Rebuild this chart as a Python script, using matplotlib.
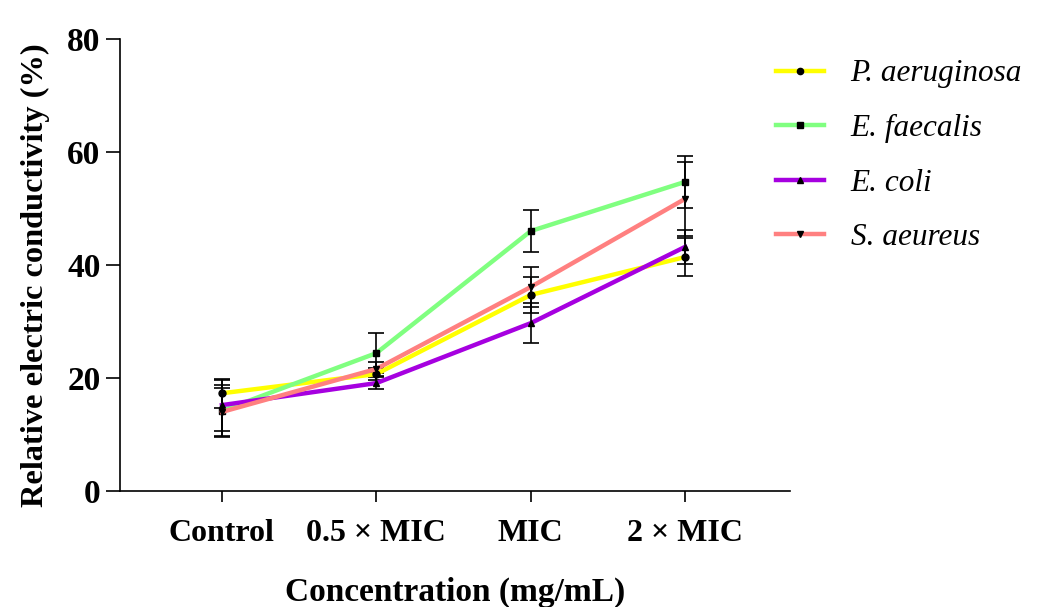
import matplotlib
matplotlib.use("Agg")
import matplotlib.pyplot as plt
from matplotlib.lines import Line2D
import numpy as np

categories = ["Control", "0.5 × MIC", "MIC", "2 × MIC"]
series_names = ["P. aeruginosa", "E. faecalis", "E. coli", "S. aeureus"]
p_aeruginosa = [17.3, 20.7, 34.7, 41.4]
p_aeruginosa_err = [2.6, 1.0, 3.2, 3.3]
e_faecalis = [14.2, 24.4, 46.0, 54.7]
e_faecalis_err = [4.6, 3.6, 3.7, 4.6]
e_coli = [15.2, 19.1, 29.7, 43.2]
e_coli_err = [4.5, 1.0, 3.5, 3.0]
s_aeureus = [14.0, 21.6, 36.1, 51.7]
s_aeureus_err = [4.2, 1.2, 3.5, 6.5]

values = [p_aeruginosa, e_faecalis, e_coli, s_aeureus]
errors = [p_aeruginosa_err, e_faecalis_err, e_coli_err, s_aeureus_err]
colors = ["#FFFF00", "#80FF80", "#A600E0", "#FF8080"]
markers = ["o", "s", "^", "v"]

plt.rcParams['font.family'] = ['Liberation Serif', 'DejaVu Serif']

fig = plt.figure(figsize=(10.41, 6.07), dpi=100)
ax = fig.add_axes([0.1153, 0.191, 0.759 - 0.1153, 0.936 - 0.191])

x = np.arange(len(categories))
handles = []
for vals, errs, c, m, name in zip(values, errors, colors, markers, series_names):
    ax.errorbar(x, vals, yerr=errs, color=c, lw=3.2, marker=m, ms=5,
                mfc='black', mec='black', ecolor='black', elinewidth=1.2,
                capsize=6, capthick=1.2, zorder=3)
    handles.append(Line2D([], [], color=c, lw=3.2, marker=m, ms=4.5,
                          mfc='black', mec='black', label=name))

ax.set_xlim(-0.66, 3.68)
ax.set_ylim(0, 80)
ax.set_yticks([0, 20, 40, 60, 80])
ax.set_xticks(x)
ax.set_xticklabels(categories)
for s in ['top', 'right']:
    ax.spines[s].set_visible(False)
for s in ['left', 'bottom']:
    ax.spines[s].set_linewidth(1.2)
ax.tick_params(axis='y', length=10, width=1.2, labelsize=24, pad=4)
ax.tick_params(axis='x', length=8, width=1.2, labelsize=23, pad=12)
for lab in ax.get_xticklabels() + ax.get_yticklabels():
    lab.set_fontweight('bold')

ax.set_xlabel("Concentration (mg/mL)", fontsize=24, fontweight='bold', labelpad=21)
ax.set_ylabel("Relative electric conductivity (%)", fontsize=23.3, fontweight='bold')
ax.yaxis.set_label_coords(-0.105, 0.478)

fig.legend(handles=handles, loc='upper left', bbox_to_anchor=(0.745, 0.902),
           frameon=False, prop={'style': 'italic', 'size': 22.5},
           handlelength=1.55, labelspacing=0.82, borderaxespad=0.0,
           borderpad=0.0, handletextpad=0.85)

fig.savefig("out.png", dpi=100)
